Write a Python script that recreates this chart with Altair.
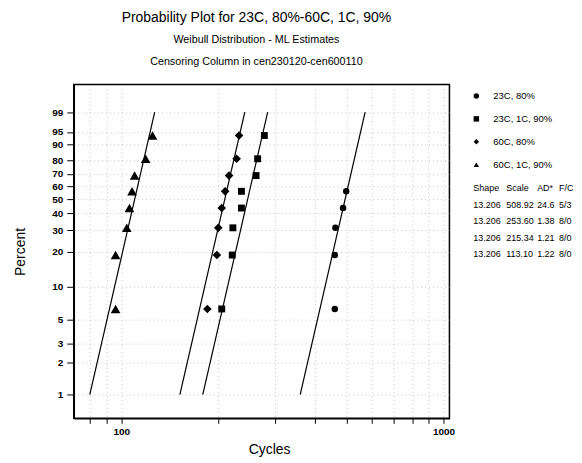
import math
import altair as alt
import pandas as pd

# ---------------- data ----------------
series = ["23C, 80%", "23C, 1C, 90%", "60C, 80%", "60C, 1C, 90%"]
marker_shapes = ["circle", "square", "diamond", "triangle-up"]
marker_sizes = [42, 48, 75, 95]

weib_shape = [13.206, 13.206, 13.206, 13.206]
weib_scale = [508.92, 253.60, 215.34, 113.10]
ad_stat = ["24.6", "1.38", "1.21", "1.22"]
fail_cens = ["5/3", "8/0", "8/0", "8/0"]
table_header = ["Shape", "Scale", "AD*", "F/C"]

pct_positions = [6.25, 18.75, 31.25, 43.75, 56.25, 68.75, 81.25, 93.75]
cycles_23c_80 = [460, 460, 462, 488, 499]
cycles_23c_1c_90 = [205, 221, 222, 236, 236, 262, 265, 278]
cycles_60c_80 = [185, 198, 200, 205, 210, 216, 228, 232]
cycles_60c_1c_90 = [96, 96, 104, 106, 108, 110, 119, 125]
series_cycles = [cycles_23c_80, cycles_23c_1c_90, cycles_60c_80, cycles_60c_1c_90]

line_pct = [1, 99]  # fitted lines drawn from 1% to 99%

y_ticks_pct = [1, 2, 3, 5, 10, 20, 30, 40, 50, 60, 70, 80, 90, 95, 99]
x_ticks = [80, 90, 100, 200, 300, 400, 500, 600, 700, 800, 900, 1000]

FONT = "Liberation Sans, Arial"


def wq(p):
    """Weibull probability-paper transform of a percentage."""
    return math.log(-math.log(1 - p / 100.0))


# points
pts = []
for s, cyc in zip(series, series_cycles):
    for c, p in zip(cyc, pct_positions):
        pts.append({"series": s, "cycles": c, "wy": wq(p)})
pts = pd.DataFrame(pts)

# fitted lines from the shape/scale estimates
lines = []
for s, k, lam in zip(series, weib_shape, weib_scale):
    for p in line_pct:
        t = lam * (-math.log(1 - p / 100.0)) ** (1.0 / k)
        lines.append({"series": s, "cycles": t, "wy": wq(p)})
lines = pd.DataFrame(lines)

x_enc = alt.X(
    "cycles:Q",
    title="Cycles",
    scale=alt.Scale(type="log", domain=[71.2, 1043.7], nice=False),
    axis=alt.Axis(
        values=x_ticks,
        labelExpr="indexof([100, 1000], datum.value) >= 0 ? format(datum.value, 'd') : ''",
        tickSize=5,
        labelPadding=3,
        titlePadding=6,
        titleX=196,
    ),
)
y_enc = alt.Y(
    "wy:Q",
    title="Percent",
    scale=alt.Scale(domain=[-5.112, 2.125], nice=False, zero=False),
    axis=alt.Axis(
        values=[wq(p) for p in y_ticks_pct],
        labelExpr="format(100 * (1 - exp(-exp(datum.value))), '.0f')",
        tickSize=7,
        labelPadding=4,
        titlePadding=24,
    ),
)
shape_enc = alt.Shape(
    "series:N", scale=alt.Scale(domain=series, range=marker_shapes), legend=None
)

line_layer = alt.Chart(lines).mark_line(color="black", strokeWidth=1.2).encode(
    x=x_enc, y=y_enc, detail="series:N"
)
point_layers = [
    alt.Chart(pts)
    .transform_filter(alt.datum.series == s)
    .mark_point(filled=True, color="black", opacity=1, size=sz, shape=shp)
    .encode(x=x_enc, y=y_enc)
    for s, shp, sz in zip(series, marker_shapes, marker_sizes)
]

main = alt.layer(line_layer, *point_layers).properties(
    width=377,
    height=335,
    view=alt.ViewBackground(stroke="black", strokeWidth=1.5),
)

# legend panel
leg_df = pd.DataFrame({"series": series})
leg_y = alt.Y("series:N", sort=series, axis=None)
leg_sym = alt.Chart(leg_df).mark_point(
    filled=True, color="black", opacity=1, size=30
).encode(y=leg_y, x=alt.value(3), shape=shape_enc)
leg_txt = alt.Chart(leg_df).mark_text(
    align="left", baseline="middle", font=FONT, fontSize=9.5, color="black"
).encode(y=leg_y, x=alt.value(20), text="series:N")
legend = alt.layer(leg_sym, leg_txt).properties(width=97, height=92)

# statistics table
rows = [table_header]
for k, lam, a, f in zip(weib_shape, weib_scale, ad_stat, fail_cens):
    rows.append([f"{k:.3f}", f"{lam:.2f}", a, f])
tab = []
for r, row in enumerate(rows):
    for c, txt in enumerate(row):
        tab.append({"r": r, "c": c, "txt": txt})
tab = pd.DataFrame(tab)
table = alt.Chart(tab).mark_text(
    align="left", baseline="middle", font=FONT, fontSize=9, color="black"
).encode(
    x=alt.X("c:Q", axis=None, scale=alt.Scale(domain=[0, 1, 2, 3], range=[0, 33, 64, 86])),
    y=alt.Y("r:O", axis=None),
    text="txt:N",
).properties(width=97, height=82.5)

right = alt.vconcat(legend, table, spacing=4, bounds="flush")

chart = alt.hconcat(main, right, spacing=24, bounds="flush").properties(
    title=alt.TitleParams(
        text="Probability Plot for 23C, 80%-60C, 1C, 90%",
        subtitle=["Weibull Distribution - ML Estimates", "Censoring Column in cen230120-cen600110"],
        anchor="middle",
        dx=-37,
        font=FONT,
        fontSize=14,
        fontWeight="normal",
        color="black",
        subtitleFont=FONT,
        subtitleFontSize=10.8,
        subtitleColor="black",
        subtitleLineHeight=22,
        subtitlePadding=9.5,
        offset=17,
    ),
    padding={"left": 5, "top": 1, "right": 0, "bottom": 0},
).configure_view(stroke=None).configure_axis(
    domainColor="black",
    domainWidth=1.5,
    tickColor="black",
    tickWidth=1,
    labelColor="black",
    labelFont=FONT,
    labelFontSize=10,
    labelFontWeight="bold",
    titleColor="black",
    titleFont=FONT,
    titleFontSize=14,
    titleFontWeight="normal",
    grid=True,
    gridColor="#999999",
    gridDash=[1, 3],
    gridOpacity=0.55,
)

chart.save("out.html", embed_options={"renderer": "svg", "actions": False})
